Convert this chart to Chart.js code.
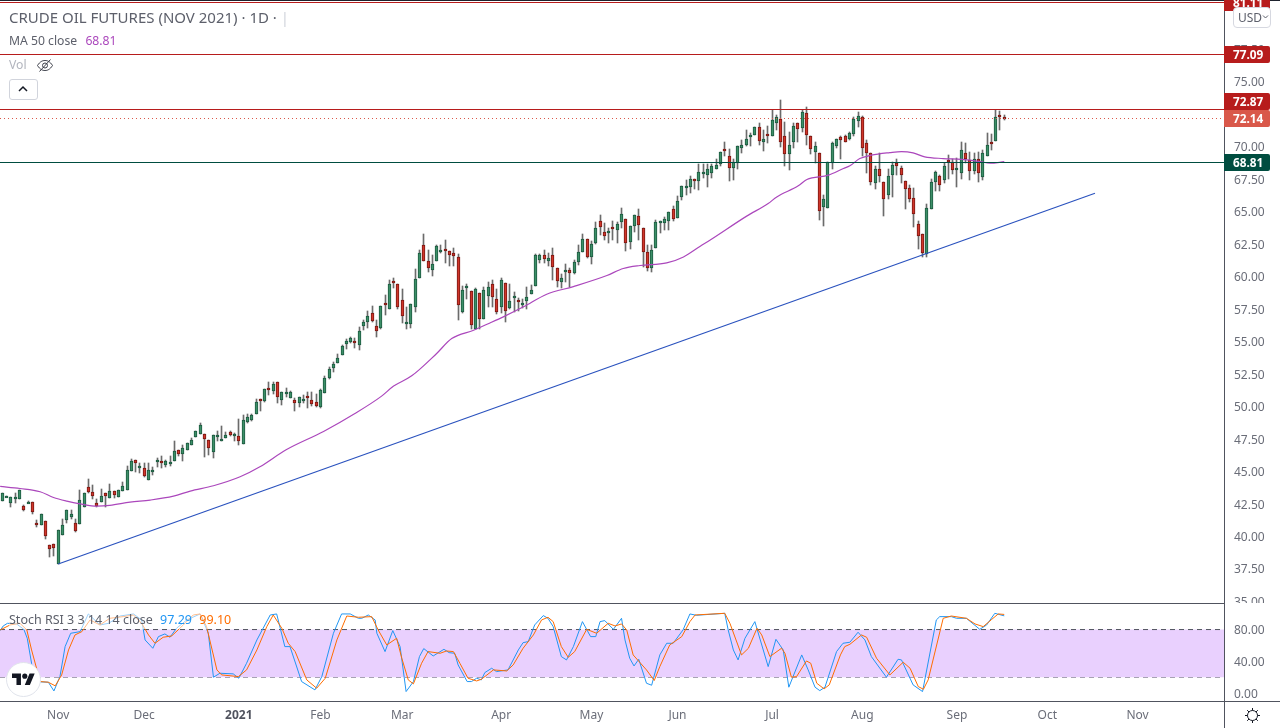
<!DOCTYPE html>
<html>
<head>
<meta charset="utf-8">
<title>Crude Oil Futures (Nov 2021)</title>
<script src="https://cdn.jsdelivr.net/npm/chart.js@4/dist/chart.umd.min.js"></script>
<style>
  html, body { margin: 0; padding: 0; background: #fff; width: 1280px; height: 728px; overflow: hidden; }
  body { position: relative; font-family: "Noto Sans", sans-serif; }
  canvas { position: absolute; left: 0; display: block; }
  #mainChart { top: 0; }
  #stochChart { top: 603px; }
  .rule { position: absolute; background: #50535e; }
  .legend { position: absolute; left: 9px; white-space: nowrap; color: #5d606b; }
  .badge { position: absolute; left: 1224px; width: 37px; padding-left: 9px; height: 17px; line-height: 17px;
           color: #fff; font-size: 11.8px; font-weight: 700; border-radius: 0 2px 2px 0; }
  svg { position: absolute; }
</style>
</head>
<body>
<canvas id="mainChart" width="1280" height="603"></canvas>
<canvas id="stochChart" width="1280" height="125"></canvas>

<div class="rule" style="left:0;top:0;width:1280px;height:1px;background:#1e222d"></div>
<div class="rule" style="left:0;top:603px;width:1224px;height:1px"></div>
<div class="rule" style="left:0;top:701px;width:1280px;height:1px"></div>
<div class="rule" style="left:1224px;top:0;width:1px;height:728px"></div>

<div class="legend" style="top:8px;font-size:15px;line-height:19px">CRUDE OIL FUTURES (NOV 2021) · 1D · <span style="color:#d1d4dc">|</span></div>
<div class="legend" style="top:32px;font-size:12.2px;line-height:18px">MA 50 close <span style="color:#ab47bc;margin-left:5px">68.81</span></div>
<div class="legend" style="top:56px;font-size:12.2px;line-height:18px;color:#b2b5be">Vol</div>
<svg style="left:36px;top:58px" width="18" height="15" viewBox="0 0 18 15" fill="none" stroke="#3b3e48" stroke-width="1">
  <path d="M1.5 7.5C4 3.500 6.500 2.500 9 2.500s5 1 7.500 5c-2.500 4-5 5-7.500 5s-5-1-7.500-5z"/><circle cx="9" cy="7.500" r="2.500"/><path d="M3.500 13.500L14.500 1.500"/>
</svg>
<div style="position:absolute;left:9px;top:79px;width:27px;height:19px;border:1px solid #d1d4dc;border-radius:3px;background:#fff"></div>
<svg style="left:17px;top:85px" width="12" height="8" viewBox="0 0 12 8" fill="none" stroke="#131722" stroke-width="1.5"><path d="M2 6l4-4 4 4"/></svg>

<div class="badge" style="top:-6px;background:#b71c1c">81.11</div>
<div class="badge" style="top:46px;background:#b71c1c">77.09</div>
<div class="badge" style="top:93px;background:#b71c1c">72.87</div>
<div class="badge" style="top:110px;background:#d9584a">72.14</div>
<div class="badge" style="top:154px;background:#004d40">68.81</div>

<div style="position:absolute;left:1233px;top:7px;width:32px;height:19px;border:1px solid #d6d8e0;border-radius:4px;background:#fff;font-size:12px;line-height:19px;color:#5d606b;padding-left:4px">USD</div>
<svg style="left:1262px;top:14px" width="7" height="6" viewBox="0 0 7 6" fill="none" stroke="#5d606b" stroke-width="1"><path d="M1 1.500l2.500 2.500L6 1.500"/></svg>

<div class="legend" style="top:611px;font-size:12.5px;line-height:18px;background:rgba(255,255,255,.55);width:224px">Stoch RSI 3 3 14 14 close <span style="color:#2196f3;margin-left:4px">97.29</span> <span style="color:#ff6d00;margin-left:4px">99.10</span></div>

<div style="position:absolute;left:6px;top:662px;width:33px;height:33px;border-radius:50%;background:#fff;border:1px solid #e0e3eb"></div>
<svg style="left:12px;top:671px" width="23" height="18" viewBox="0 0 36 28" fill="#131722">
  <path d="M14 22H7V11H0V4h14v18zM28 22h-8l7.500-18h8L28 22z"/><circle cx="20" cy="8" r="4"/>
</svg>

<svg style="left:1244px;top:707px" width="17" height="17" viewBox="0 0 17 17" fill="none" stroke="#131722" stroke-width="1">
  <circle cx="8.500" cy="8.500" r="5"/>
  <path d="M8.500 1v2.500M8.500 13.500V16M1 8.500h2.500M13.500 8.500H16M3.200 3.200l1.800 1.800M12 12l1.800 1.800M13.800 3.200L12 5M5 12l-1.800 1.800"/>
</svg>

<script>
// ===== CANDLES (one entry per trading day) =====
const opens = [
  42.71,43.00,42.51,42.92,42.87,42.28,42.56,42.59,41.00,40.87,
  41.13,39.28,39.36,37.82,40.10,41.25,41.48,40.97,40.95,42.25,
  43.74,43.36,42.51,42.64,43.28,42.95,43.43,43.02,43.48,43.56,
  45.02,45.82,45.25,45.20,44.33,44.95,45.79,45.74,45.48,45.56,
  45.79,46.66,46.33,46.64,47.02,47.59,47.84,47.89,47.43,46.48,
  47.71,47.33,47.56,47.97,47.71,47.67,47.05,48.79,48.95,49.41,
  50.51,50.41,51.38,51.18,51.82,50.49,51.02,50.64,50.46,50.25,
  50.41,50.77,50.46,50.28,49.95,51.02,52.15,52.95,53.33,53.95,
  54.79,54.92,55.00,54.72,56.15,56.49,57.15,56.20,56.00,57.92,
  57.51,59.59,59.38,58.20,56.33,56.33,57.64,59.87,62.36,61.13,
  60.48,61.13,61.97,62.12,61.97,61.82,61.51,57.25,59.15,58.82,
  55.90,58.74,56.74,58.51,59.43,58.28,57.59,59.51,57.56,58.41,
  58.20,57.87,58.12,58.64,59.25,61.25,61.59,61.18,61.59,60.59,
  59.56,60.36,60.51,60.25,61.12,61.87,62.89,61.48,62.56,64.28,
  63.43,63.33,63.77,63.59,64.18,64.43,62.64,63.87,64.66,63.74,
  61.89,60.66,62.18,64.10,64.10,64.25,65.20,64.51,66.10,66.79,
  66.87,67.51,67.34,67.92,67.80,67.95,68.26,68.64,69.75,69.21,
  68.33,68.67,69.87,70.10,70.72,70.87,71.44,70.34,70.92,70.80,
  71.80,72.13,70.75,69.41,70.34,71.75,71.41,72.59,70.75,69.57,
  69.44,65.34,65.26,68.67,70.03,70.67,70.75,70.57,70.95,71.95,
  72.21,70.21,69.44,67.18,68.28,67.28,66.26,67.80,68.67,68.36,
  67.36,66.82,65.98,64.05,63.28,61.74,65.18,67.26,67.74,67.41,
  68.90,68.82,68.23,67.95,69.44,68.90,68.08,69.05,67.64,69.26,
  70.36,70.41,72.39,72.28
];
const highs = [
  43.28,43.05,42.97,43.28,43.51,42.38,42.69,42.59,41.23,41.66,
  41.13,39.28,39.36,40.43,41.30,41.97,42.00,41.30,43.54,43.28,
  44.38,43.92,42.89,43.66,43.28,44.00,43.43,43.51,44.15,45.38,
  45.92,45.82,45.61,45.64,45.59,45.30,45.97,46.15,45.84,46.15,
  47.30,46.66,47.00,47.20,47.51,48.05,48.69,47.89,47.43,47.74,
  48.10,48.46,47.97,48.10,47.94,49.00,49.31,49.36,49.38,50.51,
  50.51,51.28,51.84,51.82,51.82,51.05,51.38,51.18,50.59,50.67,
  50.84,51.10,51.10,50.92,51.31,52.31,53.02,53.38,54.00,54.69,
  55.20,55.33,55.25,56.08,56.61,57.31,57.69,56.61,57.69,58.54,
  59.69,59.84,59.43,59.00,57.64,57.85,60.54,62.00,63.28,62.00,
  61.66,62.38,62.38,62.77,61.97,62.15,61.74,59.23,59.38,58.82,
  59.10,58.74,59.18,59.53,59.69,59.00,59.82,59.51,59.38,58.79,
  58.33,58.23,59.18,59.30,61.69,61.69,62.00,61.79,62.20,60.59,
  60.15,60.97,60.59,61.23,62.41,63.28,62.89,62.69,64.18,64.69,
  64.12,63.74,64.23,64.18,65.28,64.43,63.89,64.74,65.20,63.74,
  62.38,62.38,64.30,64.23,64.56,64.97,65.38,66.20,66.97,67.38,
  67.69,67.51,68.62,68.62,68.62,68.62,69.05,69.52,70.31,69.75,
  69.05,70.05,70.46,71.28,71.03,71.51,71.82,71.28,71.54,72.82,
  72.39,73.54,71.87,71.10,71.75,71.75,72.77,72.98,70.75,70.34,
  69.44,66.23,68.75,70.34,70.59,70.77,70.90,71.08,72.21,72.67,
  72.36,70.51,69.44,68.46,69.44,67.28,68.21,68.80,68.98,68.49,
  67.36,67.05,66.82,64.21,63.28,65.59,67.46,68.10,67.82,68.67,
  69.31,68.98,69.13,70.31,70.21,69.56,69.49,69.56,69.69,71.00,
  70.92,72.82,72.69,72.41
];
const lows = [
  42.71,43.00,42.23,42.56,42.87,41.95,42.56,41.71,40.71,40.87,
  39.79,38.41,38.48,37.82,40.10,41.02,41.28,40.33,40.95,42.25,
  43.33,42.87,42.20,42.64,42.25,42.95,42.95,43.02,43.48,43.56,
  45.02,44.95,44.87,44.56,44.33,44.69,45.33,45.23,45.33,45.41,
  45.79,46.15,45.79,46.64,47.00,47.59,47.84,46.10,46.25,46.02,
  47.33,47.33,47.56,47.69,47.33,47.00,47.05,48.67,48.87,49.41,
  49.64,50.33,50.84,50.92,50.25,50.10,50.72,50.64,49.64,49.95,
  50.25,49.87,50.02,49.95,49.87,51.02,52.10,52.64,53.33,53.95,
  54.38,54.82,54.51,54.31,55.84,56.02,56.49,55.33,55.90,57.00,
  57.51,59.08,57.46,56.41,55.92,56.02,57.25,59.87,61.20,60.33,
  60.02,61.13,61.79,61.02,60.79,60.79,56.64,57.18,58.23,55.90,
  55.90,55.90,56.74,57.64,57.64,57.10,57.13,56.48,57.51,57.25,
  57.30,57.56,57.48,58.59,59.25,61.02,61.05,60.79,59.74,59.18,
  59.10,59.56,59.18,60.20,60.84,61.87,61.36,60.94,62.51,63.15,
  62.77,62.56,62.77,62.56,63.74,61.95,62.10,63.41,62.77,60.71,
  60.41,60.33,62.18,63.33,63.53,63.59,64.25,64.51,65.89,66.23,
  66.40,66.74,66.64,67.57,66.87,67.59,68.26,68.46,69.23,67.34,
  67.39,68.21,69.49,70.00,70.03,70.85,70.08,69.64,70.21,70.80,
  71.23,69.95,68.49,68.16,69.90,70.34,71.10,70.08,69.39,68.67,
  64.31,63.85,65.21,68.21,69.90,68.98,70.34,70.51,70.77,71.49,
  69.23,67.95,67.00,66.67,67.23,64.64,65.90,66.10,67.77,67.18,
  65.15,65.72,63.80,62.08,61.44,61.49,65.13,66.57,66.57,67.13,
  67.46,67.85,66.87,67.46,68.72,67.39,67.85,67.23,67.38,69.26,
  69.69,70.41,71.23,72.00
];
const closes = [
  43.28,43.05,42.97,42.97,43.51,42.02,42.61,41.87,40.87,41.66,
  40.02,39.02,39.10,40.43,40.82,41.97,41.69,40.41,42.74,43.28,
  43.41,43.10,42.33,43.05,43.10,43.43,43.18,43.51,43.82,45.12,
  45.74,45.64,45.38,44.64,45.05,45.12,45.84,45.64,45.74,45.69,
  46.51,46.33,46.74,47.20,47.43,48.05,48.51,47.48,46.79,47.74,
  47.77,47.46,47.77,47.79,47.84,47.33,48.90,49.13,49.31,50.28,
  50.41,51.28,51.31,51.69,50.72,51.05,51.08,51.05,50.25,50.67,
  50.51,50.64,50.15,50.00,51.23,52.15,52.84,53.23,53.69,54.61,
  55.00,55.23,54.87,55.77,56.46,56.92,56.56,55.79,57.69,57.84,
  59.43,59.49,57.64,56.95,56.46,57.85,59.77,61.82,61.20,60.64,
  60.97,62.30,62.05,61.95,61.64,61.56,57.79,58.97,59.23,56.25,
  59.05,56.74,58.90,59.20,58.36,57.25,59.69,57.33,58.12,58.46,
  58.05,57.97,58.43,58.97,61.59,61.61,61.33,61.43,60.71,59.66,
  59.82,60.51,60.28,61.12,61.89,62.89,61.48,62.51,63.74,63.79,
  63.12,63.51,63.64,64.05,64.82,62.56,63.89,64.69,63.95,61.87,
  60.66,62.05,64.20,64.23,64.43,64.97,64.41,65.82,66.92,66.92,
  67.51,67.33,68.05,68.00,68.21,68.44,68.59,69.52,69.62,68.33,
  68.75,70.05,70.13,70.59,70.90,71.51,70.41,70.59,70.80,71.98,
  72.21,70.34,69.41,70.13,71.59,71.36,72.67,70.87,69.80,70.05,
  65.03,65.90,68.75,70.21,70.52,70.49,70.34,70.98,72.13,72.36,
  69.90,69.44,67.26,68.28,67.72,65.95,67.67,68.59,68.51,67.80,
  66.67,65.95,64.80,63.10,61.80,65.28,67.21,68.05,67.03,68.44,
  68.82,68.18,68.31,69.67,69.00,68.10,68.98,67.90,69.44,70.13,
  70.18,72.28,72.31,72.14
];

// ===== MA 50 (bar index, price) =====
const maIdx = [-0.5,4.1,8.8,11.9,15,18.1,22,25,29.7,34.4,39.8,43.7,49.1,55.3,59.9,66,74.7,82,88.2,91,95.2,101,104.5,109.6,113.4,116.5,121.2,126.6,132.8,140.6,144.4,148.3,154.5,158.4,162.3,164.8,173.1,178.1,180.1,185.1,187.1,192.1,195.6,197.1,199.4,202.1,206.4,209.1,211.8,214.5,218.8,223.1,227.3,229.7,233];
const maVal = [43.82,43.66,43.41,42.97,42.69,42.48,42.3,42.36,42.61,42.77,43.07,43.46,43.87,44.56,45.33,46.64,48.05,49.43,50.77,51.54,52.33,54.05,55.2,55.84,56.4,56.87,57.64,58.61,59.2,60.05,60.59,60.82,61.02,61.48,62.3,62.82,64.62,65.59,66.1,66.95,67.44,67.77,68.28,68.49,69.05,69.31,69.51,69.59,69.49,69.18,69.05,68.98,68.82,68.69,68.81];

// ===== DRAWN LEVELS AND TREND LINE =====
const redLevels = [81.11, 77.09, 72.87];
const lastPrice = 72.14;
const maLevel = 68.81;
const trendIdx = [13, 254.1];
const trendVal = [37.85, 66.38];

// ===== STOCH RSI (bar index, value) =====
const kIdx = [-0.5,0.2,1.2,3.3,5,5.8,6.8,7.2,10.7,12,13.4,14.6,15.9,18.1,20,22.7,24.7,27.4,30.5,32.4,33.2,35,36.3,37.8,39,40.5,42.9,46,47.9,49.1,50.6,53.7,55,56.8,59.2,62.3,63.8,65.7,66.9,69.6,72.7,74.3,77,78.9,80.9,82.8,83.6,85.1,86.7,87.1,89,90.8,92.5,93.9,95.6,97,98,100.2,102.7,103.9,105.2,106,108.1,109.1,110.3,111.4,112.2,113.8,114.9,117.6,120,121.1,122.3,123.8,125.8,126.9,128.1,130,131.2,132.8,134.9,136.8,138,139,140.1,142.1,144,144.8,145.9,146.9,148,149.8,151,152.9,154.5,156,158.3,159.9,161.4,168,168.8,170,171.1,172.7,175,178.1,179.9,181.6,182.9,185.9,187.4,189,190.1,191.3,194,195.5,197.1,199,200.6,202.1,205.6,208.3,209.1,211.8,214,217.2,218,220.7,221.9,224.2,227.3,228.9,230.8,233];
const kVal = [78.7,84.5,87.9,87.1,80.3,69,37.5,14.4,13.6,2.6,20.7,58.5,75.3,77.4,99.7,85.8,87.9,97.1,99.7,92.1,66.9,56.4,71.1,74.5,70.3,81.6,92.1,99.7,75.3,19.9,24.9,24.1,18.6,37.5,66.9,98.4,99.7,58.5,58.5,14.4,3.9,20.7,75.3,99.7,99.7,94.2,94.2,98.4,92.1,75.3,52.2,78.7,58.5,1.8,14.4,45.9,56,46.7,55.1,50.9,50.1,35.4,14.4,14.4,18.6,16.5,25.7,31.2,27,29.1,54.3,63.5,64.8,85.8,97.6,94.2,83.7,45.9,41.7,58.5,90,71.1,71.1,90,91.3,80.3,94.2,66.9,43.8,34.1,42.5,12.3,9.8,48,62.7,62.7,79.5,99.7,98,100.5,79.5,54.3,41.7,69,90,33.3,67.7,54.3,7.3,48,29.1,7.3,3,7.3,52.2,62.7,64,76.6,66.9,45.9,19.9,42.5,41.7,10.2,1.8,92.1,96.3,96.3,94.2,94.2,80.3,85.8,100.5,97.29];
const dIdx = [-0.5,1.8,4.1,5.7,6.8,8.8,10.7,12.3,13.8,15.4,16.9,18.5,20.4,22.7,25,28.1,30.5,32.4,34,35.5,37.4,39.4,42.1,44.4,46,47.5,49.9,51,54.9,56.8,59.2,61.5,63,65,66.5,68.1,70.8,73.1,75.1,77.8,80.1,82.8,85.9,87.4,89.4,91.7,92.9,94.4,95.6,97.5,99,101.8,103.3,104.9,106.4,108.3,110.3,111.4,114.2,117.3,118.8,121.1,123.5,125.4,126.9,128.1,130,131.6,133.1,135.9,138.2,140.9,142.5,144,145.2,146.7,149.8,151.6,152.9,155.2,158,159.9,161.1,168,169.2,171.9,173.5,175.5,176.6,178.5,181.2,182,183.5,184.7,187,188,189.4,191.1,192.3,194.9,195.9,197.1,199.8,201,203.3,206.4,209.5,211.1,213,214.2,215.3,218.8,220.7,224.2,226.2,228.1,230.1,231.6,233];
const dVal = [79.5,85.8,87.9,79.5,54.3,14.4,13.6,9,22.8,54.3,73.2,77.4,92.1,85.8,94.2,96.3,98.4,87.9,73.2,62.7,70.3,72,85.8,98.4,99.7,83.7,29.1,22.8,20.7,29.1,54.3,83.7,98.4,81.6,62.7,52.2,16.5,6,18.6,66.9,97.1,95.5,96.3,79.5,60.6,69,43.8,16.5,11.5,37.5,52.2,50.1,53,52.2,37.5,18.6,15.2,17.3,29.1,27.8,35.4,56.4,73.2,92.1,95.5,90,58.5,45,52.2,80.3,75.3,87.9,84.5,87.1,79.5,48,29.1,15.7,33.3,60.6,71.1,90,98.4,100.5,87.9,48,56.4,81.6,73.2,45.9,56.4,50.1,19.9,20.7,40.4,37.5,12.3,5.2,10.2,48,58.5,61.4,73.2,70.3,43.8,22.8,38.8,31.2,8.1,4.7,16.5,94.2,97.1,94.2,87.1,83.7,92.9,99.7,99.1];
const bandTop = 80;
const bandBottom = 20;

// ===== AXES =====
const priceTicks = [35,37.5,40,42.5,45,47.5,50,52.5,55,57.5,60,62.5,65,67.5,70,72.5,75,77.5,80];
const stochTicks = [0, 40, 80];
const monthIdx = [13,33,55,74,93,116,137,157,179,200,222,243,264];
const monthLabels = ['Nov','Dec','2021','Feb','Mar','Apr','May','Jun','Jul','Aug','Sep','Oct','Nov'];
const xMin = -0.54;
const xMax = 284.1;
const priceMin = 34.85;
const priceMax = 81.25;
const stochMin = -10.1;
const stochMax = 113.5;

const FONT = '"Noto Sans", sans-serif';
const TICK_COLOR = '#6a6d78';

// ===== DATASET HELPERS =====
function bodies(isWanted) {
    const out = [];
    opens.forEach((o, i) => {
        if (isWanted(o, closes[i])) out.push({ x: i, y: [o, closes[i]] });
    });
    return out;
}

function hLine(value, color, dash) {
    return {
        type: 'line',
        data: [{ x: xMin, y: value }, { x: xMax, y: value }],
        borderColor: color,
        borderWidth: 1,
        borderDash: dash || [],
        pointRadius: 0,
        order: 0,
        snapLine: true,
    };
}

function pairs(xs, ys) {
    return xs.map((x, i) => ({ x, y: ys[i] }));
}

// no inset for first/last tick labels, the panes run edge to edge
function fitRightAxis(scale) {
    scale.width = 56;
    scale.paddingTop = 0;
    scale.paddingBottom = 0;
}

// ===== PIXEL SNAP FOR CRISP CANDLES =====
const snapPlugin = {
    id: 'snap',
    beforeDatasetsDraw(chart) {
        chart.data.datasets.forEach((ds, di) => {
            const meta = chart.getDatasetMeta(di);
            if (ds.snapLine) {
                meta.data.forEach(p => { p.y = Math.round(p.y) + 0.5; });
            }
            if (meta.type !== 'bar') return;
            meta.data.forEach(el => {
                el.x = Math.floor(el.x) + 0.5;
                const top = Math.round(Math.min(el.y, el.base));
                let bottom = Math.round(Math.max(el.y, el.base));
                if (ds.isBody && bottom - top < 2) bottom = top + 2;
                el.y = top;
                el.base = bottom;
            });
        });
    }
};

// tick digits of this font sit a little high, move them down to the reference rows
const labelNudgePlugin = {
    id: 'labelNudge',
    beforeDraw(chart) {
        chart.scales.y.getLabelItems(chart.chartArea).forEach(item => {
            item.options.translation[1] += 1.5;
        });
    }
};

// ===== PRICE CHART =====
new Chart(document.getElementById('mainChart'), {
    type: 'bar',
    plugins: [snapPlugin, labelNudgePlugin],
    data: {
        datasets: [
            ...redLevels.map(v => hLine(v, '#b71c1c')),
            hLine(lastPrice, '#d9584a', [1, 3]),
            hLine(maLevel, '#004d40'),
            {
                type: 'line',
                data: pairs(trendIdx, trendVal),
                borderColor: '#2a52be',
                borderWidth: 1.2,
                pointRadius: 0,
                order: 0,
            },
            {
                type: 'line',
                data: pairs(maIdx, maVal),
                borderColor: '#ab47bc',
                borderWidth: 1.2,
                pointRadius: 0,
                cubicInterpolationMode: 'monotone',
                order: 1,
            },
            {
                data: bodies((o, c) => c >= o),
                backgroundColor: '#3d8f68',
                borderColor: '#1c5a40',
                borderWidth: 1,
                borderSkipped: false,
                barThickness: 3,
                grouped: false,
                isBody: true,
                order: 2,
            },
            {
                data: bodies((o, c) => c < o),
                backgroundColor: '#d0362a',
                borderColor: '#7a1712',
                borderWidth: 1,
                borderSkipped: false,
                barThickness: 3,
                grouped: false,
                isBody: true,
                order: 2,
            },
            {
                data: highs.map((h, i) => ({ x: i, y: [lows[i], h] })),
                backgroundColor: '#6b6b6b',
                borderWidth: 0,
                barThickness: 1,
                grouped: false,
                order: 3,
            },
        ]
    },
    options: {
        responsive: false,
        animation: false,
        events: [],
        plugins: { legend: { display: false }, tooltip: { enabled: false } },
        scales: {
            x: { type: 'linear', min: xMin, max: xMax, offset: false, display: false },
            y: {
                position: 'right',
                min: priceMin,
                max: priceMax,
                grid: { display: false, drawTicks: false },
                border: { display: false },
                afterBuildTicks: scale => { scale.ticks = priceTicks.map(value => ({ value })); },
                afterFit: fitRightAxis,
                ticks: {
                    autoSkip: false,
                    padding: 10,
                    color: TICK_COLOR,
                    font: { family: FONT, size: 12 },
                    callback: v => Number(v).toFixed(2),
                },
            },
        },
    },
});

// ===== STOCH RSI PANE =====
new Chart(document.getElementById('stochChart'), {
    type: 'line',
    plugins: [labelNudgePlugin],
    data: {
        datasets: [
            {
                data: pairs(kIdx, kVal),
                borderColor: '#2196f3',
                borderWidth: 1,
                pointRadius: 0,
                order: 1,
            },
            {
                data: pairs(dIdx, dVal),
                borderColor: '#ff6d00',
                borderWidth: 1,
                pointRadius: 0,
                order: 0,
            },
            {
                data: [{ x: xMin, y: bandTop }, { x: xMax, y: bandTop }],
                borderColor: '#50535e',
                borderWidth: 1,
                borderDash: [5, 4],
                pointRadius: 0,
                fill: '+1',
                backgroundColor: '#e9d0fe',
                order: 2,
            },
            {
                data: [{ x: xMin, y: bandBottom }, { x: xMax, y: bandBottom }],
                borderColor: '#50535e',
                borderWidth: 1,
                borderDash: [5, 4],
                pointRadius: 0,
                order: 2,
            },
        ]
    },
    options: {
        responsive: false,
        animation: false,
        events: [],
        plugins: { legend: { display: false }, tooltip: { enabled: false } },
        scales: {
            x: {
                type: 'linear',
                min: xMin,
                max: xMax,
                grid: { display: false, drawTicks: false },
                border: { display: false },
                afterBuildTicks: scale => { scale.ticks = monthIdx.map(value => ({ value })); },
                afterFit: scale => {
                    scale.height = 27;
                    scale.paddingLeft = 0;
                    scale.paddingRight = 0;
                },
                ticks: {
                    autoSkip: false,
                    maxRotation: 0,
                    padding: 7,
                    color: ctx => monthLabels[ctx.index] === '2021' ? '#50535e' : TICK_COLOR,
                    font: ctx => ({ family: FONT, size: 12, weight: monthLabels[ctx.index] === '2021' ? 'bold' : 'normal' }),
                    callback: (v, i) => monthLabels[i],
                },
            },
            y: {
                position: 'right',
                min: stochMin,
                max: stochMax,
                grid: { display: false, drawTicks: false },
                border: { display: false },
                afterBuildTicks: scale => { scale.ticks = stochTicks.map(value => ({ value })); },
                afterFit: fitRightAxis,
                ticks: {
                    autoSkip: false,
                    padding: 10,
                    color: TICK_COLOR,
                    font: { family: FONT, size: 12 },
                    callback: v => Number(v).toFixed(2),
                },
            },
        },
    },
});
</script>
</body>
</html>
